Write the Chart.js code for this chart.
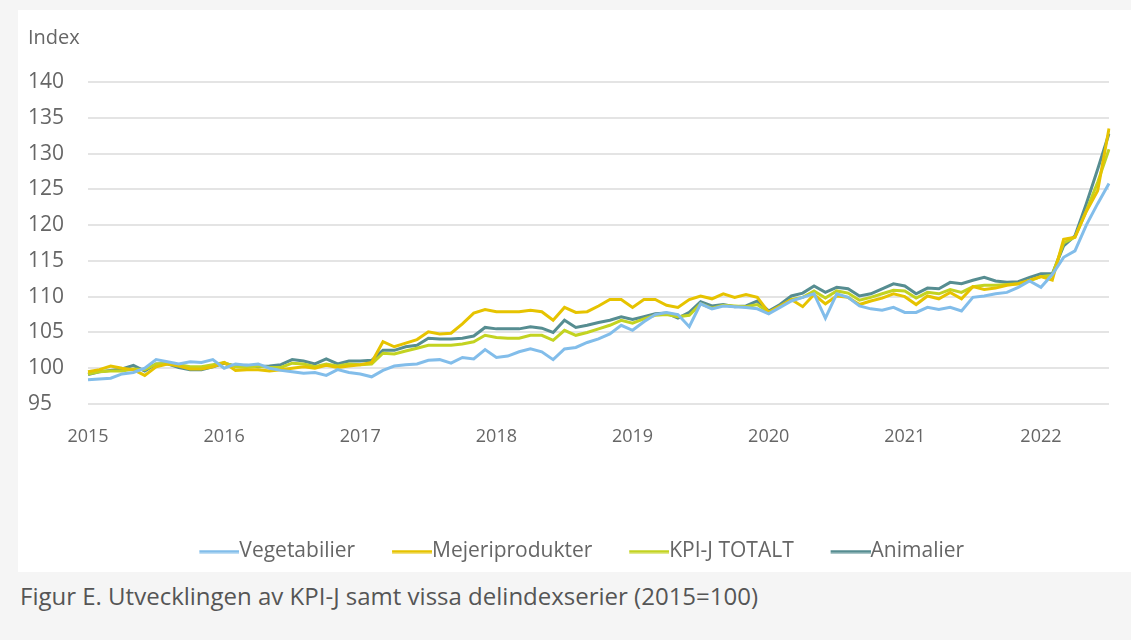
<!DOCTYPE html>
<html>
<head>
<meta charset="utf-8">
<script src="https://cdn.jsdelivr.net/npm/chart.js@4"></script>
<style>
  body { margin: 0; background: #f5f5f5; font-family: "Open Sans", sans-serif; }
  .panel { position: absolute; left: 18px; top: 10px; width: 1113px; height: 562px; background: #fff; }
  .caption { position: absolute; left: 20px; top: 579px; font-size: 24px; color: #555; }
</style>
</head>
<body>
<div class="panel"><canvas id="kpi" width="1113" height="562"></canvas></div>
<div class="caption">Figur E. Utvecklingen av KPI-J samt vissa delindexserier (2015=100)</div>
<script>
// monthly, jan 2015 - jul 2022
const years = [2015, 2016, 2017, 2018, 2019, 2020, 2021, 2022]
const months = []
years.forEach(y => {
    for (let m = 1; m <= 12; m++) {
        if (y === 2022 && m > 7) break
        months.push(y + "-" + String(m).padStart(2, "0"))
    }
})

const vegetabilier = [
    98.4, 98.5, 98.6, 99.2, 99.4, 100.0, 101.2, 100.9, 100.6, 100.9, 100.8, 101.2,
    100.0, 100.6, 100.4, 100.6, 100.0, 99.7, 99.5, 99.3, 99.4, 99.0, 99.8, 99.4,
    99.2, 98.8, 99.7, 100.3, 100.5, 100.6, 101.1, 101.2, 100.7, 101.5, 101.3, 102.6,
    101.5, 101.7, 102.3, 102.7, 102.3, 101.2, 102.7, 102.9, 103.6, 104.1, 104.8, 106.0,
    105.3, 106.5, 107.5, 107.8, 107.5, 105.8, 109.0, 108.3, 108.7, 108.6, 108.5, 108.3,
    107.6, 108.5, 109.4, 109.9, 110.4, 107.0, 110.4, 109.9, 108.7, 108.3, 108.1, 108.5,
    107.8, 107.8, 108.5, 108.2, 108.5, 108.0, 109.9, 110.1, 110.4, 110.6, 111.3, 112.2,
    111.3, 113.1, 115.5, 116.4, 120.0, 123.0, 125.8
]
const mejeri = [
    99.5, 99.8, 100.3, 100.0, 99.8, 99.0, 100.2, 100.6, 100.3, 99.9, 99.9, 100.2,
    100.8, 99.7, 99.8, 99.8, 99.6, 99.8, 100.0, 100.2, 100.0, 100.4, 100.1, 100.3,
    100.5, 100.8, 103.7, 103.0, 103.5, 104.0, 105.1, 104.8, 104.9, 106.2, 107.7, 108.2,
    107.9, 107.9, 107.9, 108.1, 107.9, 106.7, 108.5, 107.8, 107.9, 108.7, 109.6, 109.6,
    108.5, 109.6, 109.6, 108.8, 108.5, 109.6, 110.1, 109.7, 110.4, 109.9, 110.3, 109.9,
    107.8, 108.7, 109.6, 108.6, 110.3, 109.0, 110.1, 109.9, 108.9, 109.4, 109.8, 110.4,
    110.0, 108.9, 110.1, 109.7, 110.6, 109.7, 111.4, 111.0, 111.2, 111.6, 111.8, 112.3,
    112.8, 112.3, 118.0, 118.3, 121.9, 124.8, 133.5
]
const kpij = [
    99.2, 99.5, 99.6, 99.6, 99.9, 99.8, 100.6, 100.7, 100.5, 100.2, 100.2, 100.5,
    100.8, 100.2, 100.1, 100.3, 100.1, 100.1, 100.7, 100.6, 100.2, 100.6, 100.3, 100.6,
    100.5, 100.6, 102.1, 102.0, 102.4, 102.8, 103.2, 103.2, 103.2, 103.4, 103.7, 104.6,
    104.3, 104.2, 104.2, 104.6, 104.6, 103.9, 105.3, 104.6, 105.0, 105.5, 106.0, 106.7,
    106.3, 106.9, 107.4, 107.5, 107.2, 107.4, 109.0, 108.4, 108.8, 108.7, 108.6, 108.9,
    107.8, 108.6, 109.6, 109.9, 110.8, 109.8, 110.8, 110.5, 109.5, 109.9, 110.4, 110.9,
    110.8, 109.8, 110.6, 110.4, 111.0, 110.6, 111.4, 111.6, 111.6, 111.7, 111.8, 112.2,
    112.8, 113.0, 117.5, 118.3, 122.0, 126.0, 130.6
]
const animalier = [
    99.1, 99.5, 99.7, 99.9, 100.4, 99.6, 100.6, 100.6, 100.1, 99.8, 99.8, 100.2,
    100.7, 100.3, 100.4, 100.2, 100.3, 100.5, 101.2, 101.0, 100.6, 101.3, 100.6, 101.0,
    101.0, 101.1, 102.5, 102.5, 103.0, 103.2, 104.2, 104.1, 104.1, 104.2, 104.5, 105.7,
    105.5, 105.5, 105.5, 105.8, 105.6, 105.0, 106.7, 105.7, 106.0, 106.4, 106.7, 107.2,
    106.8, 107.2, 107.6, 107.7, 107.0, 107.8, 109.3, 108.7, 108.9, 108.6, 108.7, 109.4,
    108.0, 108.9, 110.1, 110.5, 111.5, 110.6, 111.3, 111.1, 110.1, 110.4, 111.1, 111.8,
    111.5, 110.4, 111.2, 111.1, 112.0, 111.8, 112.3, 112.7, 112.2, 112.0, 112.1, 112.7,
    113.2, 113.2, 117.1, 118.5, 123.0, 127.8, 132.8
]

function serie(label, data, color) {
    return {
        label: label,
        data: data,
        borderColor: color,
        backgroundColor: color,
        borderWidth: 3,
        pointRadius: 0,
        tension: 0
    }
}

// legend marker: a 40px line pushed right so it touches the text
function lineIcon(color) {
    const c = document.createElement("canvas")
    c.width = 61
    c.height = 4
    const g = c.getContext("2d")
    g.strokeStyle = color
    g.lineWidth = 3
    g.beginPath()
    g.moveTo(21, 2)
    g.lineTo(61, 2)
    g.stroke()
    return c
}

// nudge the legend a bit to the right, the original is not centred on the canvas
const legendShift = {
    id: "legendShift",
    afterLayout: c => {
        c.legend.left += 8
        c.legend.right += 8
    }
}

Chart.defaults.font.family = "'Open Sans', sans-serif"
Chart.defaults.color = "#666"

const chart = new Chart(document.getElementById("kpi"), {
    type: "line",
    data: {
        labels: months,
        datasets: [
            serie("Vegetabilier", vegetabilier, "#82bdea"),
            serie("Mejeriprodukter", mejeri, "#e6c300"),
            serie("KPI-J TOTALT", kpij, "#c3d321"),
            serie("Animalier", animalier, "#568d91")
        ]
    },
    plugins: [legendShift],
    options: {
        responsive: false,
        animation: false,
        layout: { padding: { left: 10, right: 22, top: 16, bottom: 0 } },
        plugins: {
            title: {
                display: true,
                text: "Index",
                align: "start",
                font: { size: 20, weight: "normal" },
                color: "#666",
                padding: { top: 0, bottom: 32 }
            },
            legend: {
                position: "bottom",
                labels: {
                    usePointStyle: true,
                    pointStyleWidth: 40,
                    font: { size: 21 },
                    color: "#666",
                    padding: 10,
                    generateLabels: c => {
                        const items = Chart.defaults.plugins.legend.labels.generateLabels(c)
                        items.forEach((it, i) => {
                            it.pointStyle = lineIcon(it.strokeStyle)
                            if (i < items.length - 1) it.text += "   "
                        })
                        return items
                    }
                }
            },
            tooltip: { enabled: false }
        },
        scales: {
            x: {
                offset: false,
                grid: { display: false },
                border: { display: false },
                ticks: {
                    autoSkip: false,
                    maxRotation: 0,
                    font: { size: 18 },
                    color: "#666",
                    padding: 14,
                    callback: function (v, i) {
                        const l = months[i]
                        return l.endsWith("-01") ? l.slice(0, 4) : ""
                    }
                },
                afterFit: s => { s.height = 127 }
            },
            y: {
                min: 95,
                max: 140,
                border: { display: false },
                grid: { color: "#e4e4e4", lineWidth: 2, drawTicks: false },
                ticks: {
                    stepSize: 5,
                    font: { size: 21 },
                    color: "#666",
                    padding: 12,
                    crossAlign: "far"
                }
            }
        }
    }
})
</script>
</body>
</html>
